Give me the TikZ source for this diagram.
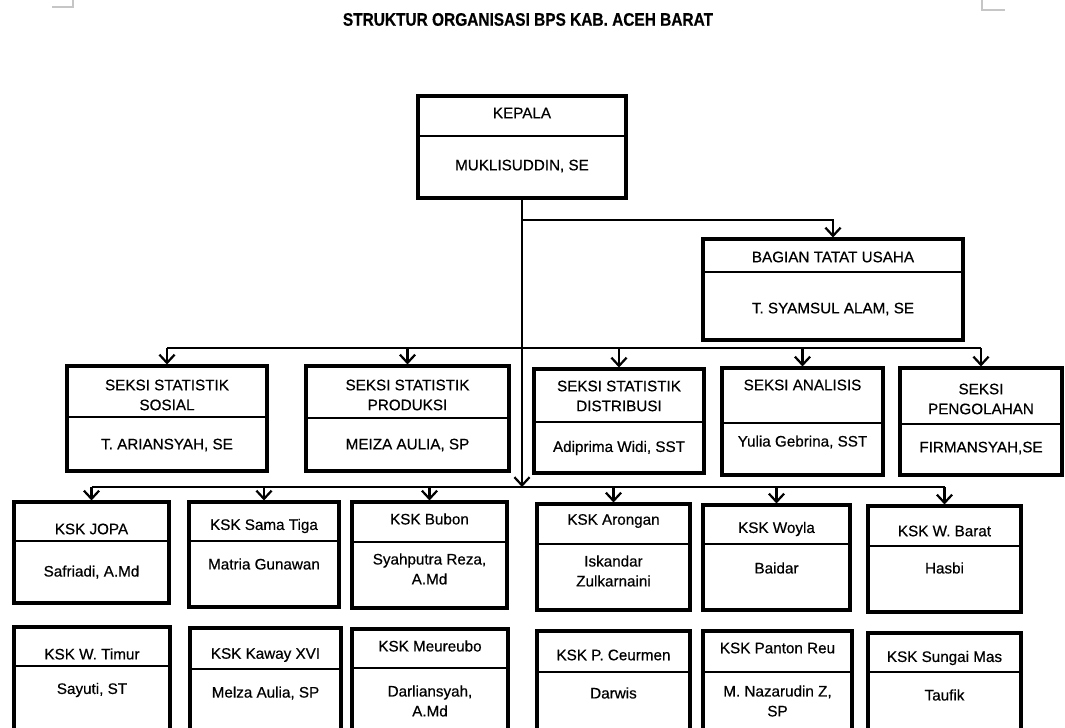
\documentclass[tikz,border=0pt]{standalone}
\usepackage{fontspec}
\setmainfont{Liberation Sans}
\newfontfamily\medfont{Liberation Sans}[FakeBold=0.5]
\usetikzlibrary{arrows.meta,fit}
\begin{document}
\begin{tikzpicture}
    [x=0.3mm, y=-0.3mm,
     every node/.style={font=\medfont\fontsize{13}{17}\selectfont, align=center, inner sep=0pt},
     unitbox/.style={draw, line width=2.6pt, inner sep=0pt},
     divline/.style={line width=2pt},
     link/.style={line width=1.9pt},
     >={Straight Barb[length=7pt,width=13pt]}]
  \useasboundingbox (0,0) rectangle (1065,727);
  \clip (0,0) rectangle (1065,727);
  \draw[gray!45, line width=1pt] (52,7) -- (73,7) -- (73,0);
  \draw[gray!45, line width=1pt] (982,0) -- (982,10) -- (1005,10);
  \node (judul) at (528,19.5) {\fontsize{15.5}{18}\selectfont\bfseries\scalebox{0.85}[1]{STRUKTUR ORGANISASI BPS KAB. ACEH BARAT}};

  \foreach \nm/\xl/\yt/\xr/\ybot/\ydiv/\ytit/\tit/\ynam/\nam in {
      kepala/418/96/626/198/136/113/KEPALA/166/{MUKLISUDDIN, SE},
      tu/703/239/963/340/272/257/BAGIAN TATAT USAHA/309/{T. SYAMSUL ALAM, SE},
      sosial/67/366/267/471/417/395/{SEKSI STATISTIK\\SOSIAL}/445/{T. ARIANSYAH, SE},
      produksi/306/366/509/471/418/395/{SEKSI STATISTIK\\PRODUKSI}/445/{MEIZA AULIA, SP},
      distribusi/534/369/704/473/422/396/{SEKSI STATISTIK\\DISTRIBUSI}/448/{Adiprima Widi, SST},
      analisis/722/368/883/475/423/385/SEKSI ANALISIS/442/{Yulia Gebrina, SST},
      pengolahan/900/368/1062/475/424/399/{SEKSI\\PENGOLAHAN}/448/{FIRMANSYAH,SE},
      jopa/14/502/169/603/541/529/KSK JOPA/572/{Safriadi, A.Md},
      samatiga/189/502/339/607/541/526/KSK Sama Tiga/564/Matria Gunawan,
      bubon/352/502/507/608/542/519/KSK Bubon/569/{Syahputra Reza,\\A.Md},
      arongan/537/504/690/610/544/521/KSK Arongan/571/{Iskandar\\Zulkarnaini},
      woyla/703/505/850/610/544/529/KSK Woyla/568/Baidar,
      wbarat/868/506/1021/612/546/531/KSK W. Barat/568/Hasbi,
      wtimur/14/627/170/760/666/654/KSK W. Timur/690/{Sayuti, ST},
      kaway/190/628/341/760/669/655/KSK Kaway XVI/693/{Melza Aulia, SP},
      meureubo/352/629/508/760/668/646/KSK Meureubo/701/{Darliansyah,\\A.Md},
      ceurmen/537/631/690/760/672/655/KSK P. Ceurmen/693/Darwis,
      panton/703/631/852/760/672/648/KSK Panton Reu/701/{M. Nazarudin Z,\\SP},
      sungai/868/633/1021/760/672/658/KSK Sungai Mas/695/Taufik}
  {
    \node[unitbox, fit={(\xl,\yt) (\xr,\ybot)}] (\nm) {};
    \coordinate (\nm-dv) at (\xl,\ydiv);
    \draw[divline] (\nm.west |- \nm-dv) -- (\nm.east |- \nm-dv);
    \node (\nm-tit) at ({(\xl+\xr)/2},\ytit) {\tit};
    \node (\nm-nam) at ({(\xl+\xr)/2},\ynam) {\nam};
  }

  \coordinate (tubus) at (522,220);
  \coordinate (seksibus) at (522,348);
  \coordinate (kskbus) at (522,487);

  \draw[link,->] (kepala.south) -- (kepala.south |- kskbus);
  \draw[link,->] (kepala.south |- tubus) -| (tu.north);
  \draw[link] (sosial.north |- seksibus) -- (pengolahan.north |- seksibus);
  \foreach \s in {sosial,produksi,distribusi,analisis,pengolahan}
    \draw[link,->] (\s.north |- seksibus) -- (\s.north);
  \draw[link] (jopa.north |- kskbus) -- (wbarat.north |- kskbus);
  \foreach \s in {jopa,samatiga,bubon,arongan,woyla,wbarat}
    \draw[link,->] (\s.north |- kskbus) -- (\s.north);
\end{tikzpicture}
\end{document}
